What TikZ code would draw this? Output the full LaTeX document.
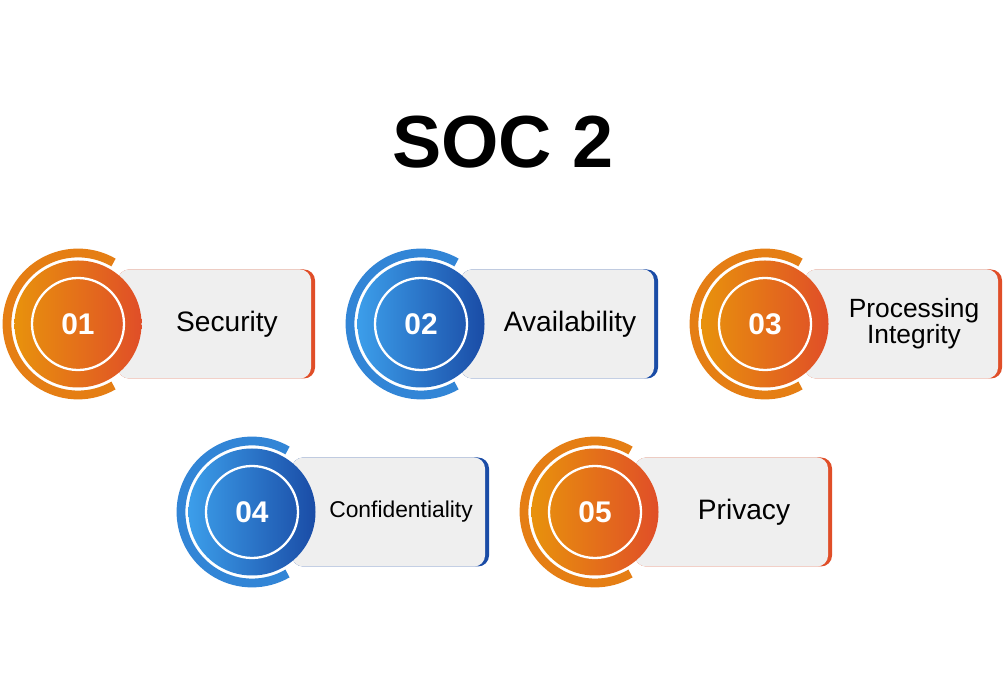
\documentclass[tikz,border=0pt]{standalone}
\usepackage{fontspec}
\setmainfont{Liberation Sans}
\usetikzlibrary{positioning}

\definecolor{orgL}{HTML}{E8920C}
\definecolor{orgR}{HTML}{E04E28}
\definecolor{bluL}{HTML}{3C9EEA}
\definecolor{bluR}{HTML}{1A4CA6}
\definecolor{boxgray}{HTML}{EFEFEF}

\tikzset{
  card/.style={fill=boxgray, rounded corners=0.22cm},
  numtext/.style={text=white, font=\bfseries\fontsize{17}{20}\selectfont},
  labtext/.style={align=center, font=\fontsize{16}{19}\selectfont},
}

% #1 name, #2 centre, #3 number, #4 label, #5 left colour, #6 right colour, #7 font
\newcommand{\socitem}[7]{
  \coordinate (#1) at #2;
  \draw[line width=5pt, #5!70!#6] ([shift={(60:1.42)}]#1) arc[start angle=60, end angle=300, radius=1.42];
  \fill[#6, rounded corners=0.22cm] ([shift={(0.8,-1.09)}]#1) rectangle ([shift={(4.74,1.09)}]#1);
  \fill[card] ([shift={(0.8,-1.09)}]#1) rectangle ([shift={(4.66,1.09)}]#1);
  \shade[left color=#5, right color=#6] (#1) circle[radius=1.27];
  \draw[white, line width=1.3pt] (#1) circle[radius=0.92];
  \node[numtext] (#1-num) at (#1) {#3};
  \node[labtext, font=#7] (#1-lab) at ([xshift=2.98cm]#1) {#4};
}

\begin{document}
\begin{tikzpicture}
  \useasboundingbox (0,0) rectangle (20.1,13.86);
  \fill[white] (0,0) rectangle (20.1,13.86);
  \node[font=\bfseries\fontsize{42}{46}\selectfont] (title) at (10.06,11.02) {SOC 2};
  \socitem{sec}{(1.56,7.38)}{01}{Security}{orgL}{orgR}{\fontsize{16}{19}\selectfont}
  \socitem{ava}{(8.42,7.38)}{02}{Availability}{bluL}{bluR}{\fontsize{16}{19}\selectfont}
  \socitem{pro}{(15.30,7.38)}{03}{Processing\\[-3pt]Integrity}{orgL}{orgR}{\fontsize{15}{18}\selectfont}
  \socitem{con}{(5.04,3.62)}{04}{Confidentiality}{bluL}{bluR}{\fontsize{13}{16}\selectfont}
  \socitem{pri}{(11.90,3.62)}{05}{Privacy}{orgL}{orgR}{\fontsize{16}{19}\selectfont}
\end{tikzpicture}
\end{document}
